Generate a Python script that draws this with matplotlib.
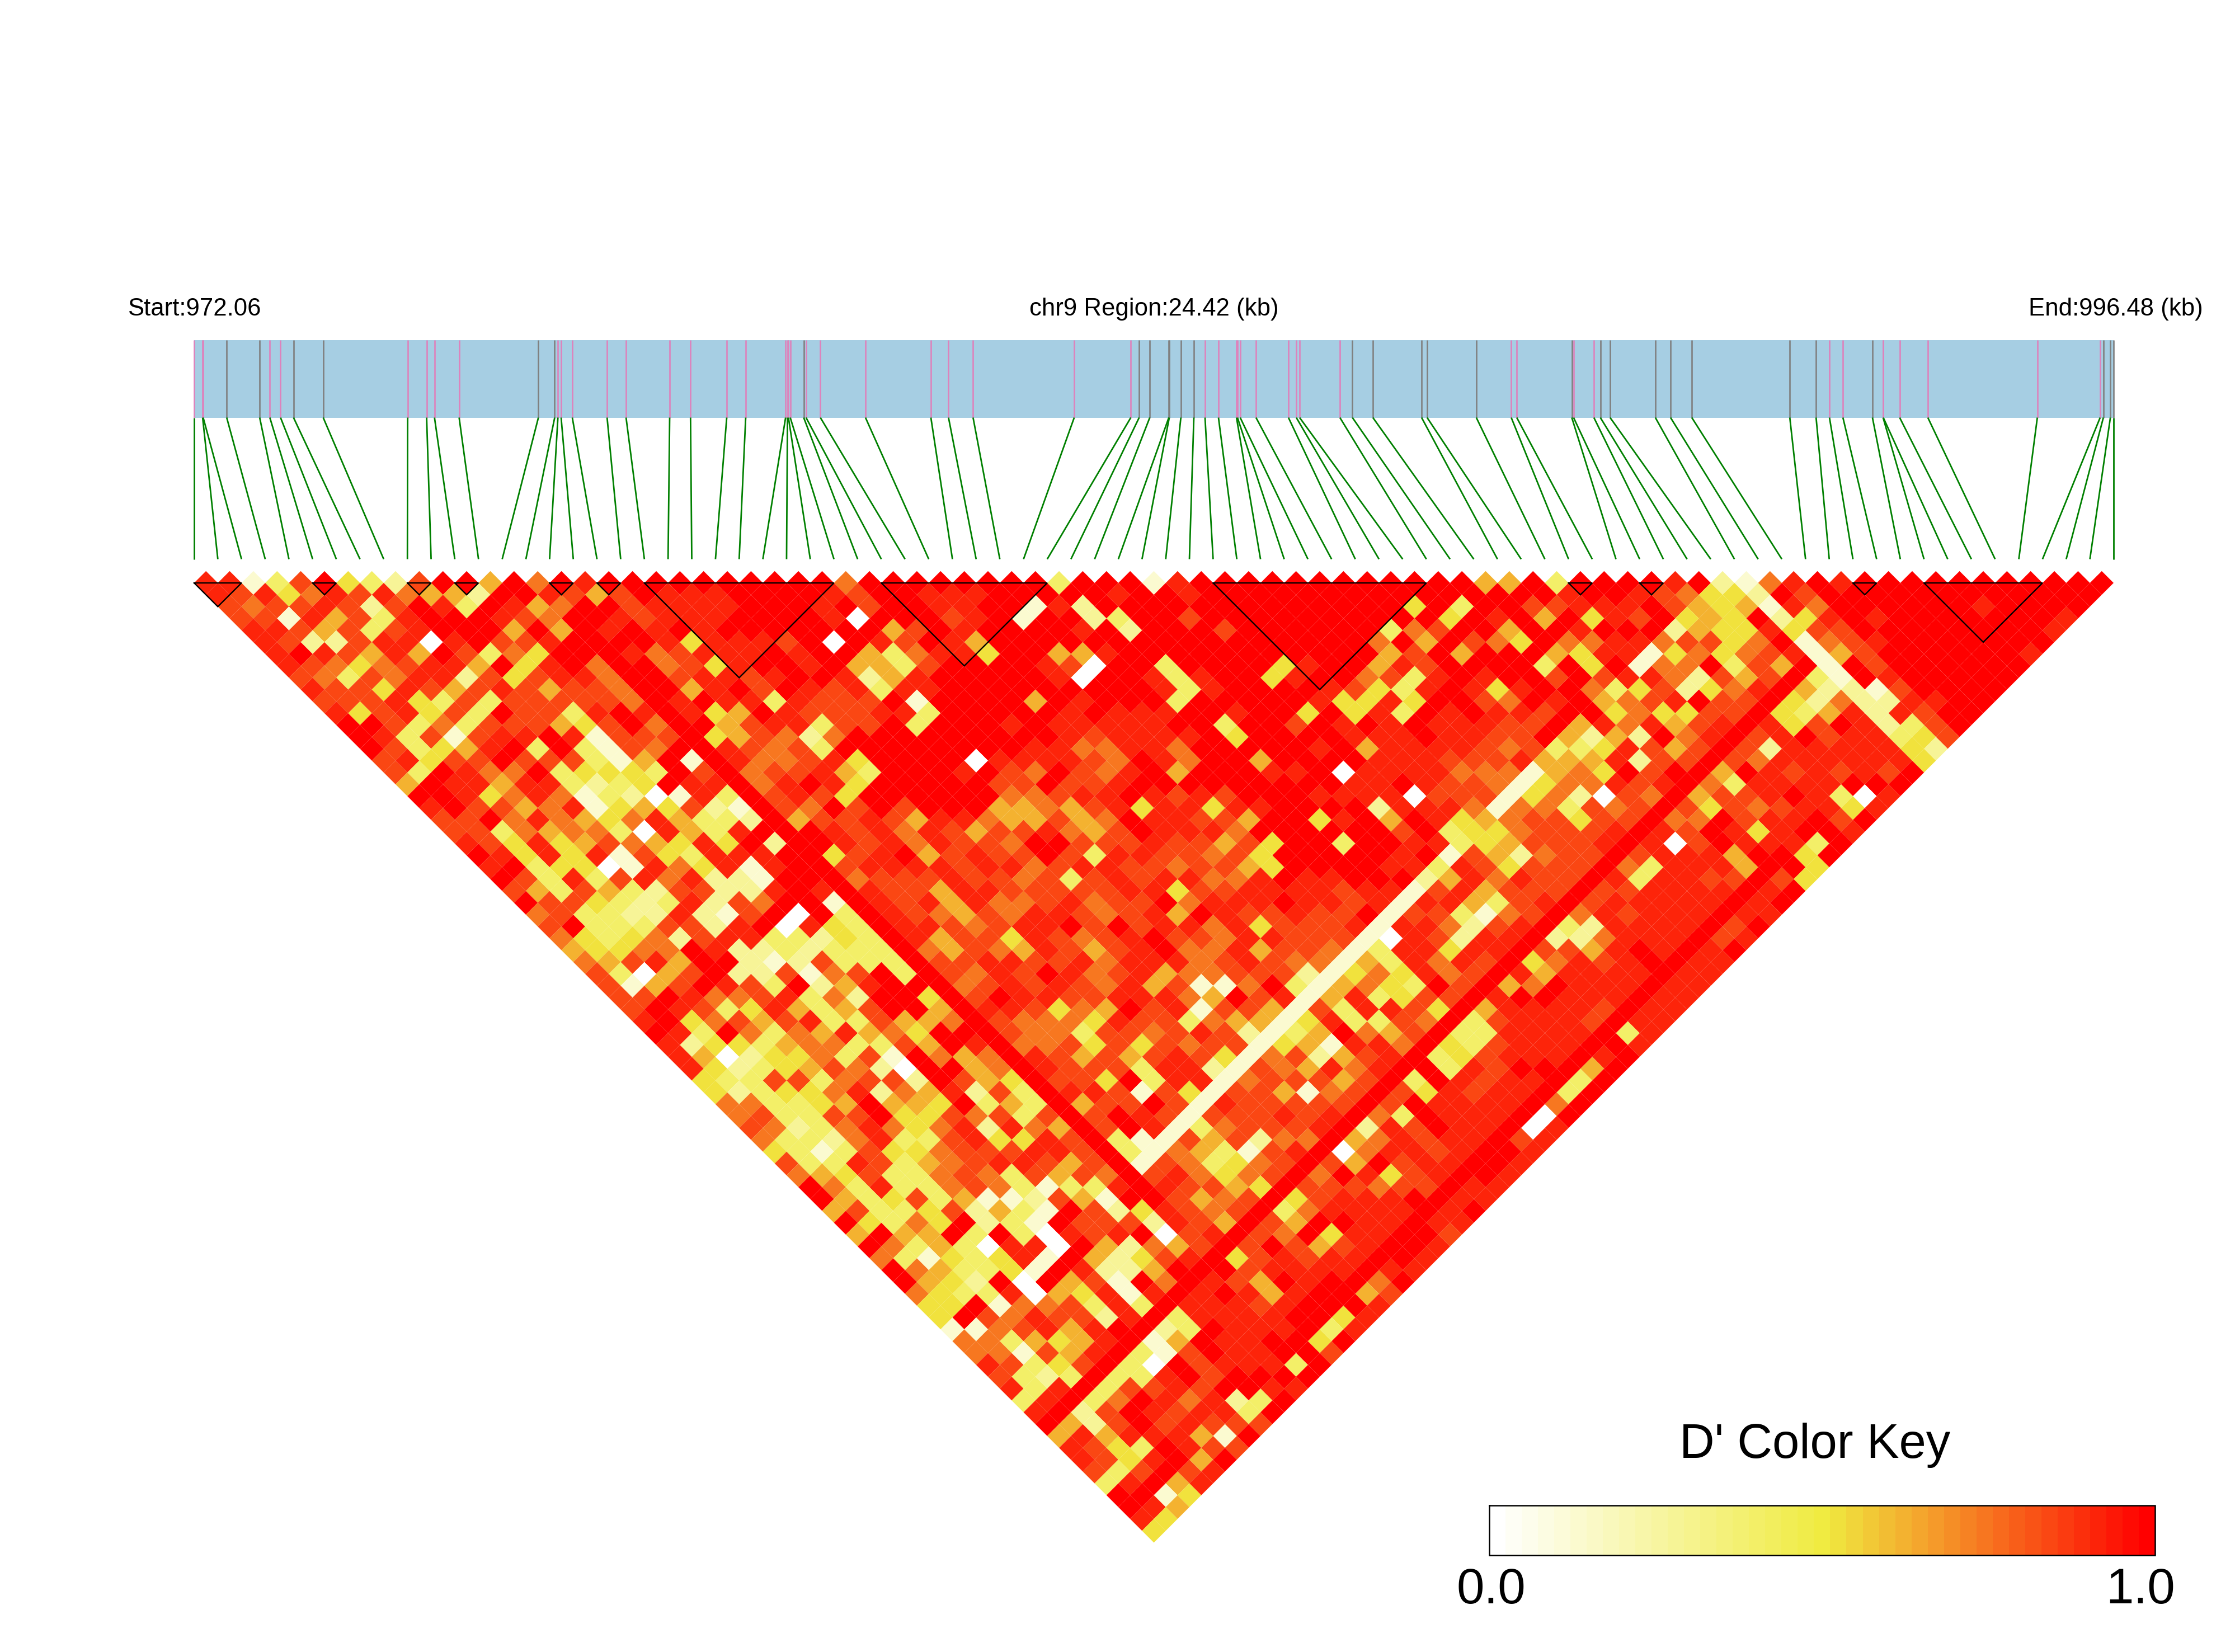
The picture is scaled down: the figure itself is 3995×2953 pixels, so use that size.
import numpy as np
import matplotlib
matplotlib.use("Agg")
import matplotlib.pyplot as plt
from matplotlib.collections import PolyCollection
from matplotlib.colors import LinearSegmentedColormap

plt.rcParams['font.family'] = ['Liberation Sans', 'DejaVu Sans']

# SNP positions, kb after the region start
snp_pos = [0.000, 0.108, 0.115, 0.414, 0.833, 0.962, 1.098, 1.263, 1.640, 2.713,
           2.954, 3.054, 3.367, 4.374, 4.581, 4.622, 4.663, 4.805, 5.247, 5.488,
           6.042, 6.307, 6.767, 7.008, 7.515, 7.539, 7.551, 7.574, 7.745, 7.775,
           7.957, 8.530, 9.361, 9.585, 9.897, 11.182, 11.901, 12.007, 12.142, 12.384,
           12.390, 12.537, 12.702, 12.844, 13.015, 13.244, 13.256, 13.291, 13.492, 13.904,
           14.004, 14.046, 14.558, 14.717, 14.977, 15.596, 15.666, 16.291, 16.735, 16.805,
           17.504, 17.527, 17.785, 17.867, 17.991, 18.566, 18.759, 19.029, 20.274, 20.608,
           20.778, 20.949, 21.324, 21.459, 21.462, 21.670, 22.028, 23.419, 24.217, 24.258,
           24.347, 24.388]
# p = pink tick, g = grey tick
snp_type = ("pppggppggppppgg" + "ppppppppppppp" + "g" + "pppppppp" + "gggggg" + "pppppppppp"
            + "ggggg" + "pp" + "g" + "pp" + "ggggggg" + "pp" + "g" + "pppppp" + "ggg")

# LD blocks as first and last SNP
blocks = [(0, 2), (5, 6), (9, 10), (11, 12), (15, 16), (17, 18), (19, 27), (29, 36),
          (43, 52), (58, 59), (61, 62), (70, 71), (73, 78)]

# D' level of each pair, one string per SNP distance, 0 = white ... 9 = red
levels = [0.0, 0.14, 0.28, 0.40, 0.52, 0.63, 0.74, 0.84, 0.92, 1.0]
ld_rows = [
    "8813794327 9959698999 9999999699 9999993999 1899999999 9999559399 9989216898 99999999999",
    "8784687865 5299875798 8899998799 8889999989 9899999999 9999999899 8764429799 9999999999",
    "7677872798 3985699788 8899989799 8899182999 9999999999 4939977888 9754518699 999989999",
    "7718573899 9876998788 8999980999 7891992399 7999999999 9498959487 9454924898 99999998",
    "8875737899 9595989898 9999999579 8999989299 9799999936 7995998999 2544847799 9999998",
    "8722788089 7789999848 8879098798 5999999999 9999999695 9764966886 7746916789 999999",
    "8987585973 6499986788 8989953688 4995589999 9999999579 5999548814 6467815799 99998",
    "8764678859 4896696748 9989553799 9987099399 9948995879 9993949166 9375819799 9999",
    "7637688274 7886697887 8998258999 9980998389 9489967389 8997978862 7577319899 999",
    "8774875787 5776895897 9878388999 9999998389 9998743898 4899634724 6885221799 99",
    "7778437377 7776989883 8777919999 5989993999 9984484997 6989567897 7842642889 9",
    "8478473977 3898684598 7778839999 9898889989 9494839898 8799464477 9435838799",
    "9973637775 4796895788 3779399989 8888899399 7989898887 7958685787 847983379",
    "9837178898 1777945762 6999999999 8788889499 9988898877 9525296877 89788347",
    "9734589393 1769887673 9999999988 6688699999 8958888767 3348757772 8888842",
    "7847797773 1591986678 4999908888 7698699599 9988877785 5582777768 888884",
    "7398669344 4397967785 3999897697 6895999889 0888866615 6497975987 87879",
    "5988588323 4988868984 9999977977 8999999999 8898776146 6878863888 8999",
    "9984686132 0183978749 9999966788 9878799988 8807771462 0769577898 308",
    "8977568145 4721876979 7999556578 4884889999 2888616637 6767476788 48",
    "7796865468 5332957787 5886557569 8877599489 5984567747 77669788979",
    "7736566308 5389798786 8757786579 8886999999 7934467778 7879848998",
    "8748457654 8492698786 8776997778 7757499399 8834577786 807988839",
    "9848481743 8889847895 7877973887 7674999998 9175267787 88859849",
    "8934401864 8189878888 7886788776 7754999988 3874777863 8885894",
    "9738378682 2199767778 7767378788 6689889992 5868778838 877974",
    "7537532772 2898887758 8777778847 7888878817 8577787788 88989",
    "9774323827 6991987858 6678677968 8898878188 5378678888 8989",
    "6733228217 9093987657 6887678598 7787791773 1678687888 788",
    "7933377289 0843988767 8897978868 4777818862 7883288888 79",
    "6434627883 3243985774 8767897768 8777308728 8822688877 8",
    "5446698223 2333965765 8757896685 7764388488 8775898889",
    "6578599212 7333877887 7868886787 6645386878 468789788",
    "7305792271 6793976879 8678566777 2346486788 58888888",
    "7157987392 5899367878 7685711693 4564397756 9888788",
    "7798667836 2994879887 7888659782 5834779899 888888",
    "7987348535 7995888746 5978177557 3887445888 87388",
    "8946757833 7556976664 8773655048 3376337888 7888",
    "9839636585 6499976637 7678722359 6574338888 838",
    "8244356633 7598466747 4767734518 8684378888 98",
    "8502446371 9656387575 7874267257 8634788868 9",
    "8423457620 9956987773 8826765868 8938799959",
    "4337736772 9754877493 8826777578 398788939",
    "4234468265 8273788717 4777516787 48788939",
    "6633459554 9353857797 6877777779 8888969",
    "6733779447 6737779874 7778788639 888909",
    "7623686468 2865879873 6777892879 88908",
    "6332683378 4487731875 7266956878 8978",
    "4313744677 7887531653 1788068878 998",
    "7338735678 8757327634 6787597889 98",
    "6547336763 7576478646 7869847889 8",
    "9638336763 1338887754 8777677888",
    "9534735112 7519875679 478889888",
    "5733472531 9724876793 68888989",
    "9436492319 7772875775 9988988",
    "5955939308 7890789769 488997",
    "9635308809 5265757975 78998",
    "6314348195 2478947878 8898",
    "9653341982 2598978888 988",
    "9542909571 9698759899 69",
    "6433805481 8589858995 7",
    "4491667383 3888789998",
    "4976877283 388889948",
    "1167858932 39888438",
    "6635458415 9889849",
    "6617589317 988997",
    "8734783097 88839",
    "7323833897 9999",
    "8382377879 988",
    "3893698682 39",
    "8927987883 9",
    "9527978777",
    "585888519",
    "87439877",
    "8748959",
    "737978",
    "38958",
    "9914",
    "985",
    "84",
    "4",
]

# long stripes: one SNP against a run of others
# (kind, SNP, first distance, last distance, level)
stripes = [("second", 65, 27, 51, 1), ("second", 72, 8, 72, 9), ("second", 79, 24, 66, 9),
           ("first", 14, 4, 53, 9), ("first", 65, 10, 13, 2)]

# layout in picture pixels
left, right = 347, 3778
n_snp = len(snp_pos)
step = (right - left) / (n_snp - 1)
tri_y = 1042
bar_top, bar_bottom = 607.5, 746.5
lead_bottom = 999.5

cmap = LinearSegmentedColormap.from_list(
    "ld", [(0.0, "#FFFFFF"), (0.505, "#F0EB40"), (1.0, "#FF0000")], N=41)

fig = plt.figure(figsize=(39.95, 29.53), dpi=100)
ax = fig.add_axes([0, 0, 1, 1])
ax.set_xlim(0, 3995)
ax.set_ylim(2953, 0)
ax.axis("off")

rows = [[int(c) for c in r.replace(" ", "")] for r in ld_rows]
for kind, snp, d_from, d_to, lev in stripes:
    for d in range(d_from, d_to + 1):
        i = snp - d if kind == "second" else snp
        if 0 <= i < len(rows[d - 1]):
            rows[d - 1][i] = lev

# D' triangle
polys, vals = [], []
for d, row in enumerate(rows, start=1):
    for i, lev in enumerate(row):
        cx = left + step * (i + d / 2)
        cy = tri_y + step / 2 * (d - 1)
        h = step / 2
        polys.append([(cx - h, cy), (cx, cy - h), (cx + h, cy), (cx, cy + h)])
        vals.append(levels[lev])
cells = PolyCollection(polys, array=np.array(vals), cmap=cmap, clim=(0, 1),
                       linewidths=0, antialiased=True, zorder=1)
ax.add_collection(cells)

# LD blocks
for a, b in blocks:
    xa, xb = left + step * a, left + step * b
    ax.plot([xa, xb, (xa + xb) / 2, xa],
            [tri_y, tri_y, tri_y + step / 2 * (b - a), tri_y],
            color="black", lw=1.7, solid_joinstyle="miter", zorder=3)

# chromosome bar, ticks and leader lines
ax.fill_between([left, right], bar_top, bar_bottom, color="#A6CEE3", lw=0, zorder=1)
span = snp_pos[-1] - snp_pos[0]
for k, pos in enumerate(snp_pos):
    x = left + (pos - snp_pos[0]) / span * (right - left)
    col = "#DE82BC" if snp_type[k] == "p" else "#808080"
    ax.plot([x, x], [bar_top, bar_bottom], color=col, lw=1.9, zorder=2, solid_capstyle="butt")
    ax.plot([x, left + step * k], [bar_bottom, lead_bottom], color="#008000", lw=2.0,
            zorder=2, solid_capstyle="butt")

# region labels
ax.text(left, 564, "Start:972.06", ha="center", va="baseline", fontsize=31.5)
ax.text((left + right) / 2, 564, "chr9 Region:24.42 (kb)", ha="center", va="baseline", fontsize=31.5)
ax.text(3782, 564, "End:996.48 (kb)", ha="center", va="baseline", fontsize=31.5)

# colour key
key_vals = np.linspace(0, 1, 41).reshape(1, -1)
ax.imshow(key_vals, cmap=cmap, vmin=0, vmax=1, aspect="auto",
          extent=(2662, 3852, 2780, 2691), interpolation="nearest", zorder=1)
ax.set_xlim(0, 3995)
ax.set_ylim(2953, 0)
ax.plot([2662, 3852, 3852, 2662, 2662], [2691, 2691, 2780, 2780, 2691], color="black",
        lw=1.8, zorder=2, solid_joinstyle="miter")
ax.text(3244, 2606, "D' Color Key", ha="center", va="baseline", fontsize=62.5)
ax.text(2665, 2866, "0.0", ha="center", va="baseline", fontsize=64)
ax.text(3826, 2866, "1.0", ha="center", va="baseline", fontsize=64)

fig.savefig("out.png", dpi=100, facecolor="white")
